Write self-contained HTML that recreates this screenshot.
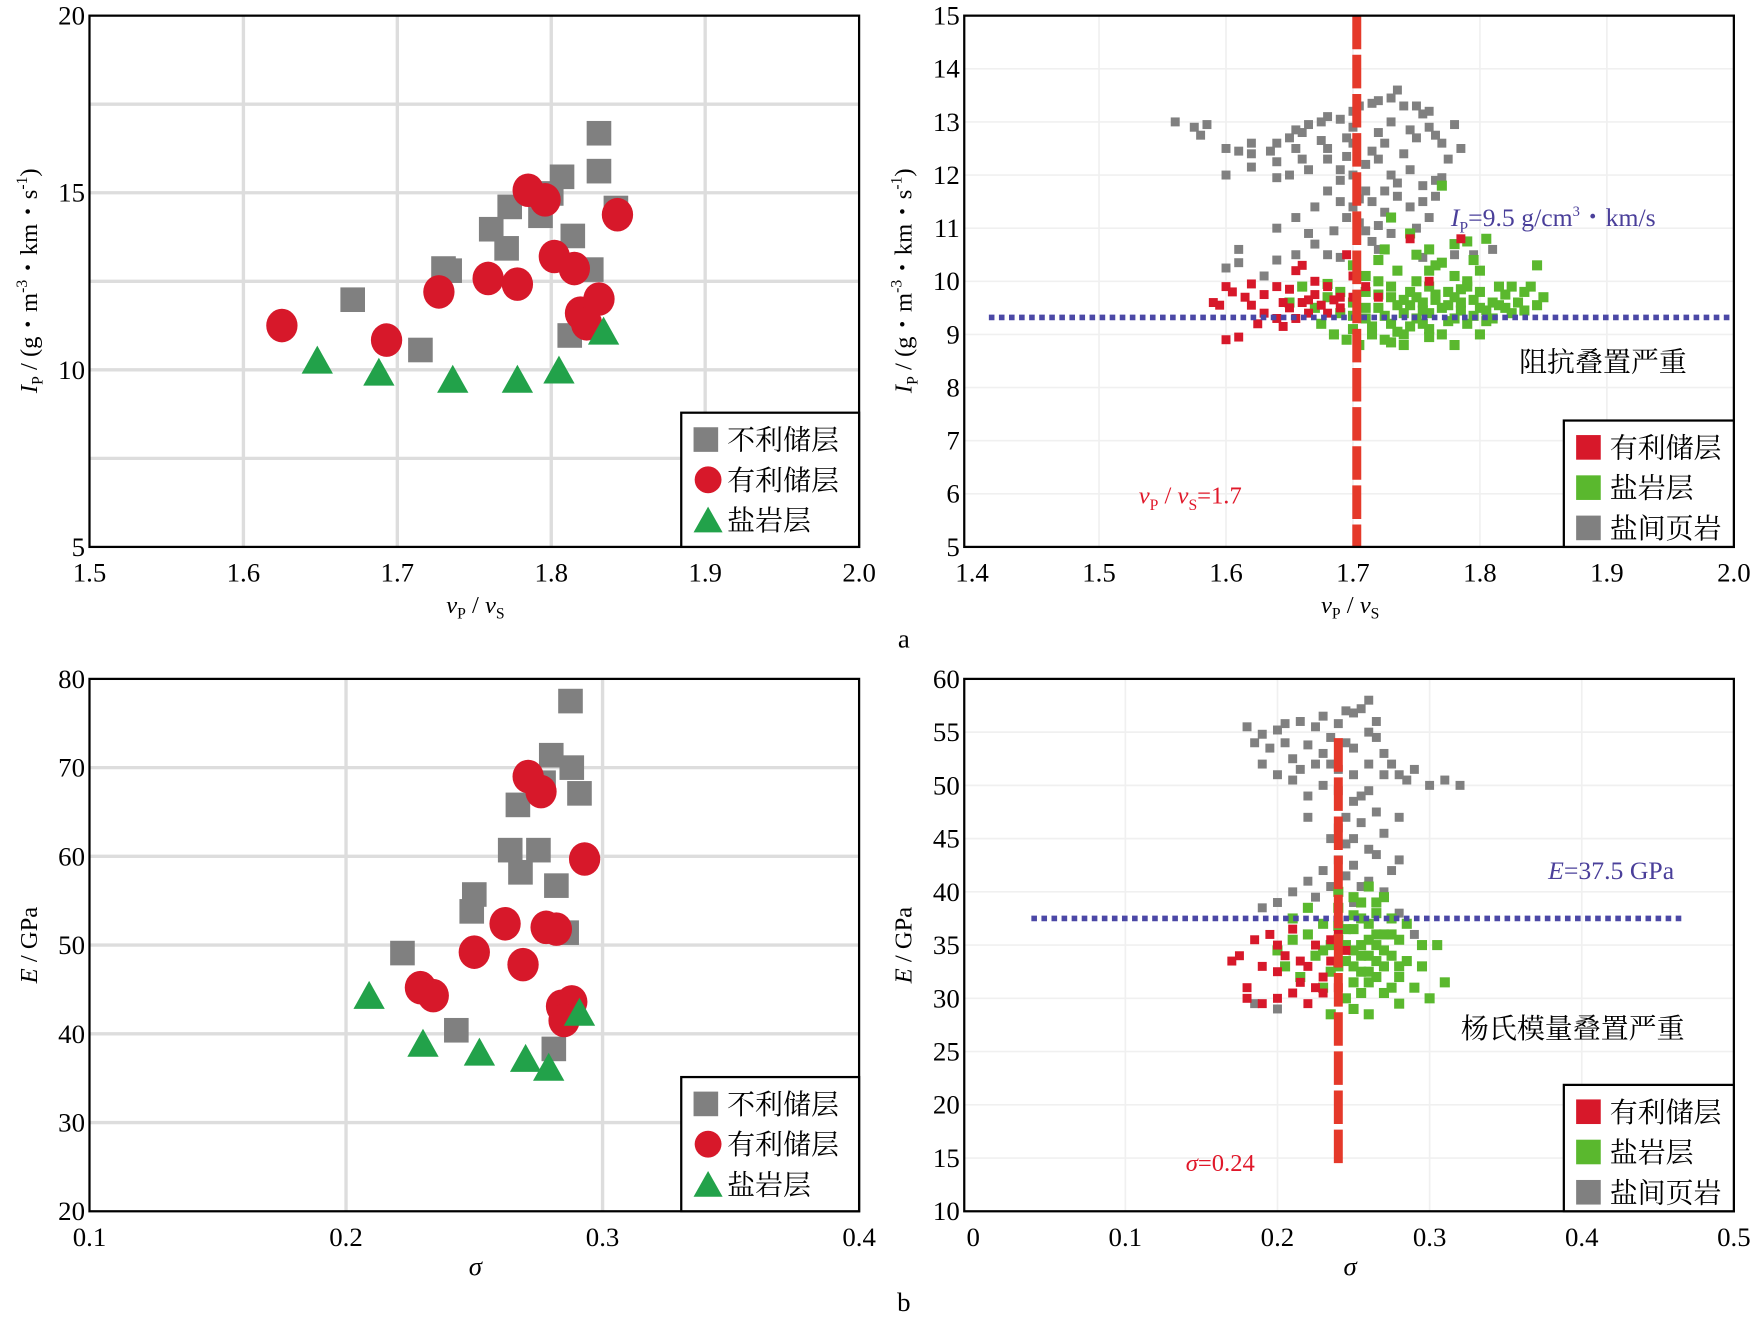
<!DOCTYPE html>
<html><head><meta charset="utf-8"><style>
html,body{margin:0;padding:0;background:#fff;}
svg{display:block;font-family:"Liberation Serif","Noto Serif CJK SC",serif;}
</style></head><body>
<svg id="s" width="1754" height="1322" viewBox="0 0 1568 1182" preserveAspectRatio="none" xmlns="http://www.w3.org/2000/svg"></svg>
<script>
// ---- Chart A1 data ----
const a1GrayX=[1.671,1.715,1.730,1.734,1.761,1.773,1.771,1.793,1.800,1.807,1.814,1.831,1.831,1.842,1.826,1.812];
const a1GrayY=[11.98,10.56,12.86,12.8,13.97,14.6,13.43,14.35,14.98,15.45,13.78,16.68,15.61,14.57,12.83,10.97];
const a1RedX=[1.625,1.693,1.727,1.759,1.778,1.785,1.796,1.802,1.815,1.819,1.823,1.831,1.843];
const a1RedY=[11.25,10.84,12.2,12.58,12.42,15.07,14.8,13.2,12.86,11.6,11.3,12.0,14.38];
const a1GreenX=[1.648,1.688,1.736,1.778,1.805,1.834];
const a1GreenY=[10.24,9.9,9.7,9.7,9.96,11.06];
const a1XTicks=["1.5","1.6","1.7","1.8","1.9","2.0"];
const a1YTicks=["5","10","15","20"];
// ---- Chart B1 data ----
const b1GrayX=[0.2875,0.280,0.288,0.277,0.291,0.267,0.264,0.275,0.268,0.282,0.250,0.249,0.286,0.222,0.243,0.281];
const b1GrayY=[77.5,71.4,70.0,68.3,67.1,65.8,60.7,60.7,58.2,56.7,55.7,53.8,51.4,49.1,40.4,38.3];
const b1RedX=[0.271,0.276,0.293,0.262,0.278,0.282,0.250,0.269,0.229,0.234,0.284,0.288,0.285];
const b1RedY=[69.0,67.3,59.7,52.4,52.0,51.8,49.2,47.8,45.2,44.3,43.1,43.6,41.5];
const b1GreenX=[0.291,0.209,0.230,0.252,0.270,0.279];
const b1GreenY=[42.3,44.2,38.8,37.8,37.1,36.1];
const b1XTicks=["0.1","0.2","0.3","0.4"];
const b1YTicks=["20","30","40","50","60","70","80"];
// ---- Chart A2 data ----
const a2Gray=[[1.56,13.0],[1.575,12.9],[1.58,12.75],[1.585,12.95],[1.60,12.5],[1.61,12.45],[1.62,12.4],[1.635,12.45],[1.64,12.6],[1.65,12.7],[1.655,12.5],[1.66,12.8],[1.665,12.95],[1.675,13.0],[1.68,13.1],[1.69,13.05],[1.695,12.7],[1.70,13.2],[1.705,13.3],[1.715,13.35],[1.72,13.4],[1.73,13.45],[1.735,13.6],[1.74,13.3],[1.75,13.3],[1.755,13.15],[1.76,12.9],[1.765,12.75],[1.77,12.6],[1.78,12.95],[1.60,12.0],[1.62,12.15],[1.64,11.95],[1.65,12.0],[1.665,12.1],[1.68,12.3],[1.69,12.1],[1.70,12.0],[1.71,12.2],[1.72,12.3],[1.73,12.0],[1.745,12.1],[1.755,11.8],[1.765,11.9],[1.77,11.95],[1.68,11.7],[1.69,11.5],[1.70,11.4],[1.705,11.1],[1.715,11.5],[1.725,11.3],[1.735,11.6],[1.745,11.4],[1.755,11.5],[1.71,10.95],[1.72,11.05],[1.73,10.9],[1.64,11.0],[1.655,11.2],[1.665,10.9],[1.67,10.7],[1.68,10.5],[1.655,10.5],[1.64,10.4],[1.61,10.6],[1.61,10.35],[1.63,10.1],[1.60,10.25],[1.69,10.45],[1.72,10.6],[1.755,10.45],[1.78,10.5],[1.795,10.5],[1.81,10.6],[1.75,11.0],[1.76,11.2],[1.67,11.4],[1.68,12.5],[1.70,12.6],[1.74,12.4],[1.75,12.7],[1.73,13.0],[1.70,12.9],[1.66,12.3],[1.64,12.25],[1.62,12.6],[1.76,13.2],[1.72,12.8],[1.69,11.9],[1.71,11.7],[1.725,12.6],[1.745,12.85],[1.715,12.45],[1.695,12.35],[1.675,12.65],[1.655,12.85],[1.735,11.85],[1.725,11.7],[1.705,11.55],[1.695,11.2],[1.685,10.95],[1.715,10.75],[1.765,11.6],[1.775,12.3],[1.785,12.5]];
const a2Green=[[1.67,9.5],[1.675,9.2],[1.68,9.7],[1.685,9.0],[1.69,9.4],[1.695,8.9],[1.70,9.6],[1.70,9.1],[1.705,8.8],[1.71,9.3],[1.71,9.8],[1.715,9.0],[1.72,9.5],[1.72,10.0],[1.725,8.9],[1.73,9.2],[1.73,9.7],[1.735,10.2],[1.74,9.4],[1.74,9.0],[1.745,9.8],[1.75,9.3],[1.75,10.0],[1.75,10.5],[1.755,9.6],[1.76,9.1],[1.76,9.9],[1.765,10.3],[1.77,9.5],[1.77,9.0],[1.775,9.8],[1.78,9.3],[1.78,10.1],[1.78,10.7],[1.785,9.6],[1.79,9.9],[1.79,9.2],[1.795,10.4],[1.80,9.5],[1.80,9.8],[1.805,10.8],[1.81,9.6],[1.81,9.3],[1.815,9.9],[1.82,9.5],[1.82,9.75],[1.825,9.4],[1.83,9.6],[1.835,9.8],[1.84,9.9],[1.845,9.55],[1.85,9.7],[1.845,10.3],[1.77,11.8],[1.73,11.2],[1.725,10.6],[1.745,10.9],[1.76,10.2],[1.79,10.0],[1.80,10.2],[1.71,9.5],[1.725,9.35],[1.735,9.55],[1.745,9.15],[1.755,9.45],[1.765,9.65],[1.775,9.25],[1.785,9.45],[1.795,9.65],[1.805,9.25],[1.815,9.55],[1.76,8.95],[1.78,8.8],[1.80,9.0],[1.73,8.85],[1.74,8.8],[1.69,9.8],[1.68,9.95],[1.66,9.9],[1.65,9.6],[1.70,10.3],[1.72,10.4],[1.76,10.6],[1.79,10.75],[1.77,10.35],[1.75,9.7],[1.73,9.9],[1.71,10.1],[1.745,9.55],[1.765,9.75],[1.785,9.85],[1.805,9.45],[1.825,9.9],[1.835,9.45],[1.715,9.15],[1.735,9.05],[1.755,9.2],[1.775,9.55],[1.795,9.35],[1.72,9.75],[1.74,9.65],[1.76,9.4],[1.78,9.7],[1.70,9.35]];
const a2Red=[[1.59,9.6],[1.595,9.55],[1.60,8.9],[1.61,8.95],[1.60,9.9],[1.605,9.8],[1.615,9.7],[1.62,9.55],[1.625,9.2],[1.63,9.4],[1.63,9.75],[1.64,9.9],[1.64,9.3],[1.645,9.15],[1.65,9.5],[1.65,9.85],[1.655,10.2],[1.66,9.6],[1.66,10.3],[1.665,9.4],[1.67,9.75],[1.675,9.55],[1.68,9.9],[1.68,9.4],[1.685,9.65],[1.69,9.5],[1.695,10.5],[1.70,9.7],[1.70,10.1],[1.71,9.9],[1.72,9.7],[1.745,10.8],[1.76,10.0],[1.785,10.8],[1.62,9.95],[1.655,9.3],[1.67,10.0],[1.665,9.65],[1.69,9.7],[1.645,9.6]];
const a2XTicks=["1.4","1.5","1.6","1.7","1.8","1.9","2.0"];
const a2YTicks=["5","6","7","8","9","10","11","12","13","14","15"];
const a2VLine=1.703, a2HLine=9.32;
// ---- Chart B2 data ----
const b2Gray=[[0.18,55.5],[0.19,54.8],[0.195,53.5],[0.20,55.2],[0.205,54.0],[0.21,52.5],[0.215,56.0],[0.22,53.8],[0.225,55.5],[0.23,56.5],[0.235,54.5],[0.24,55.8],[0.245,57.0],[0.25,56.8],[0.255,57.2],[0.26,55.0],[0.265,54.5],[0.27,53.0],[0.275,52.0],[0.28,51.0],[0.285,50.5],[0.29,51.5],[0.30,50.0],[0.31,50.5],[0.32,50.0],[0.19,52.0],[0.20,51.0],[0.21,50.5],[0.22,49.0],[0.23,50.0],[0.24,49.5],[0.25,51.0],[0.26,52.0],[0.245,47.0],[0.25,45.0],[0.255,46.5],[0.26,44.0],[0.265,47.5],[0.27,45.5],[0.24,43.0],[0.245,41.5],[0.25,42.5],[0.255,40.5],[0.26,41.0],[0.265,43.5],[0.27,40.0],[0.22,41.0],[0.23,42.0],[0.225,39.5],[0.21,40.0],[0.20,39.0],[0.19,38.5],[0.235,45.0],[0.24,46.0],[0.25,48.5],[0.26,49.5],[0.28,47.0],[0.28,43.0],[0.275,42.0],[0.23,53.0],[0.215,51.5],[0.22,47.0],[0.185,29.5],[0.20,29.0],[0.28,38.0],[0.29,36.0],[0.24,51.5],[0.25,53.5],[0.235,52.0],[0.26,58.0],[0.185,54.0],[0.205,55.8],[0.225,52.0],[0.245,54.0],[0.265,56.0],[0.27,51.0],[0.255,49.0],[0.245,44.5],[0.235,40.5],[0.25,39.0]];
const b2Green=[[0.20,34.5],[0.205,33.0],[0.21,35.5],[0.215,32.0],[0.22,36.0],[0.225,34.0],[0.23,31.0],[0.23,37.0],[0.235,35.0],[0.24,33.0],[0.24,38.5],[0.245,36.5],[0.245,30.0],[0.25,34.5],[0.25,39.5],[0.255,32.5],[0.255,37.5],[0.26,35.5],[0.26,31.5],[0.26,40.5],[0.265,33.5],[0.265,38.0],[0.27,36.0],[0.27,30.5],[0.275,34.0],[0.275,37.5],[0.28,32.0],[0.28,35.5],[0.285,33.5],[0.29,31.0],[0.295,35.0],[0.30,30.0],[0.305,35.0],[0.31,31.5],[0.235,28.5],[0.25,29.0],[0.24,35.5],[0.255,35.0],[0.265,36.0],[0.27,33.0],[0.25,36.5],[0.26,34.0],[0.245,33.5],[0.255,39.0],[0.265,32.0],[0.275,31.0],[0.285,37.0],[0.23,34.5],[0.22,38.5],[0.21,37.5],[0.24,40.0],[0.27,39.5],[0.28,29.5],[0.26,28.5],[0.25,31.5],[0.235,32.5],[0.295,33.0],[0.24,36.8],[0.26,37.0],[0.25,33.0],[0.255,34.0],[0.265,35.0],[0.275,36.0],[0.245,35.0],[0.26,32.5],[0.27,34.5],[0.28,33.0],[0.25,37.8],[0.265,39.0],[0.255,30.5]];
const b2Red=[[0.17,33.5],[0.175,34.0],[0.18,31.0],[0.185,35.5],[0.19,33.0],[0.195,36.0],[0.20,30.0],[0.20,32.5],[0.205,34.0],[0.21,30.5],[0.21,36.5],[0.215,31.5],[0.22,33.0],[0.22,29.5],[0.225,35.0],[0.23,32.0],[0.23,30.5],[0.235,33.5],[0.24,31.0],[0.245,34.5],[0.19,29.5],[0.18,30.0],[0.24,36.0],[0.2,35.0],[0.215,33.5],[0.225,31.0],[0.235,35.5]];
const b2XTicks=["0","0.1","0.2","0.3","0.4","0.5"];
const b2YTicks=["10","15","20","25","30","35","40","45","50","55","60"];
const b2VLine=0.24, b2HLine=37.5;

const NS="http://www.w3.org/2000/svg";
const svg=document.getElementById('s');
function mk(tag,attrs,parent,text){const e=document.createElementNS(NS,tag);for(const k in attrs)e.setAttribute(k,attrs[k]);if(text!==undefined)e.textContent=text;(parent||svg).appendChild(e);return e;}
const GRAY="#808080",RED="#d7182a",GREEN="#22a24a",LGREEN="#5ab82e";

function chart(name,L,R,T,B,x0,x1,y0,y1,ML){
  const g=mk('g',{});
  
  
  const m=ML===undefined?L:ML;
  return {g,sx:v=>m+(v-x0)/(x1-x0)*(R-m),sy:v=>B-(v-y0)/(y1-y0)*(B-T),L,R,T,B};
}
function frame(c){const r=mk('rect',{x:c.L,y:c.T,width:c.R-c.L,height:c.B-c.T,fill:'none',stroke:'#000','stroke-width':2},c.g);}
function grid(c,xs,ys,col,w){xs.forEach(v=>{const l=mk('line',{x1:c.sx(v),x2:c.sx(v),y1:c.T,y2:c.B,stroke:col,'stroke-width':w},c.g);});
 ys.forEach(v=>{const l=mk('line',{x1:c.L,x2:c.R,y1:c.sy(v),y2:c.sy(v),stroke:col,'stroke-width':w},c.g);});}
function ticks(c,xt,yt){
  xt.forEach(t=>{const e=mk('text',{x:c.sx(parseFloat(t)),y:c.B+31,'font-size':24,'text-anchor':'middle'},c.g,t);});
  yt.forEach(t=>{const e=mk('text',{x:c.L-4,y:c.sy(parseFloat(t))+8,'font-size':24,'text-anchor':'end'},c.g,t);});
}
function sq(c,x,y,s,col,nm){const r=mk('rect',{x:c.sx(x)-s/2,y:c.sy(y)-s/2,width:s,height:s,fill:col},c.g);}
function circ(c,x,y,nm){const e=mk('ellipse',{cx:c.sx(x),cy:c.sy(y),rx:14,ry:15,fill:RED},c.g);}
function tri(c,x,y,nm){const X=c.sx(x),Y=c.sy(y);const p=mk('polygon',{points:`${X},${Y-14} ${X+14},${Y+11} ${X-14},${Y+11}`,fill:GREEN},c.g);}
function legend(c,x,y,w,h,items){
  const lg=mk('g',{},c.g);
  mk('rect',{x,y,width:w,height:h,fill:'#fff',stroke:'#000','stroke-width':2},lg);
  items.forEach((it,i)=>{const cy=y+24+i*36;
    if(it[0]==='sq')mk('rect',{x:x+11,y:cy-11,width:22,height:22,fill:it[1]},lg);
    if(it[0]==='ci')mk('circle',{cx:x+24,cy:cy,r:12,fill:it[1]},lg);
    if(it[0]==='tr')mk('polygon',{points:`${x+24},${cy-12} ${x+37},${cy+11} ${x+11},${cy+11}`,fill:it[1]},lg);
    const t=mk('text',{x:x+41,y:cy+9,'font-size':25},lg,it[2]);});
}
function txt(p,x,y,fs,content,attrs,nm){const t=mk('text',Object.assign({x,y,'font-size':fs},attrs||{}),p);t.innerHTML=content;return t;}
const ylabIp='<tspan font-style="italic">I</tspan><tspan font-size="14" dy="5">P</tspan><tspan dy="-5"> / (g・m</tspan><tspan font-size="14" dy="-9">-3</tspan><tspan dy="9">・km・s</tspan><tspan font-size="14" dy="-9">-1</tspan><tspan dy="9">)</tspan>';
const xlabV='<tspan font-style="italic">v</tspan><tspan font-size="14" dy="5">P</tspan><tspan dy="-5"> / </tspan><tspan font-style="italic">v</tspan><tspan font-size="14" dy="5">S</tspan>';

// A1
let c=chart('chart-a-left',80,768,14,489,1.5,2.0,5,20);
grid(c,[1.6,1.7,1.8,1.9],[7.5,10,12.5,15,17.5],'#ddd',3);
a1GrayX.forEach((v,i)=>sq(c,v,a1GrayY[i],22,GRAY,'unfavorable-point'));
a1RedX.forEach((v,i)=>circ(c,v,a1RedY[i],'favorable-point'));
a1GreenX.forEach((v,i)=>tri(c,v,a1GreenY[i],'salt-point'));
frame(c);ticks(c,a1XTicks,a1YTicks);
legend(c,609,369,159,120,[['sq',GRAY,'不利储层'],['ci',RED,'有利储层'],['tr',GREEN,'盐岩层']]);
txt(c.g,425,548,22,xlabV,{'text-anchor':'middle'},'x-axis-title');
txt(c.g,0,0,22,ylabIp,{'text-anchor':'middle',transform:'translate(33,251) rotate(-90)'},'y-axis-title');

// A2
c=chart('chart-a-right',862,1550,14,489,1.4,2.0,5,15,869);
grid(c,[1.5,1.6,1.7,1.8,1.9],[6,7,8,9,10,11,12,13,14],'#f0f0f0',1.5);
a2Gray.forEach(p=>sq(c,p[0],p[1],8,GRAY,'shale-point'));
a2Green.forEach(p=>sq(c,p[0],p[1],9,LGREEN,'salt-point'));
a2Red.forEach(p=>sq(c,p[0],p[1],8,RED,'favorable-point'));
let l=mk('line',{x1:884,x2:c.R,y1:c.sy(a2HLine),y2:c.sy(a2HLine),stroke:'#4b48a6','stroke-width':5,'stroke-dasharray':'5 4'},c.g);
l=mk('line',{x1:c.sx(a2VLine),x2:c.sx(a2VLine),y1:c.T,y2:c.B,stroke:'#e5392a','stroke-width':8,'stroke-dasharray':'30 5'},c.g);
frame(c);ticks(c,a2XTicks,a2YTicks);
legend(c,1398,376,152,113,[['sq',RED,'有利储层'],['sq',LGREEN,'盐岩层'],['sq',GRAY,'盐间页岩']]);
txt(c.g,1358,332,25,'阻抗叠置严重',{},'annotation-overlap');
txt(c.g,1297,202,23,'<tspan font-style="italic">I</tspan><tspan font-size="14" dy="6">P</tspan><tspan dy="-6">=9.5 g/cm</tspan><tspan font-size="13" dy="-9">3</tspan><tspan dy="9">・km/s</tspan>',{fill:'#4a3f9a'},'ip-threshold-label');
txt(c.g,1018,450,22,'<tspan font-style="italic">v</tspan><tspan font-size="14" dy="6">P</tspan><tspan dy="-6"> / </tspan><tspan font-style="italic">v</tspan><tspan font-size="14" dy="6">S</tspan><tspan dy="-6">=1.7</tspan>',{fill:'#e0182a'},'vpvs-threshold-label');
txt(c.g,1207,548,22,xlabV,{'text-anchor':'middle'},'x-axis-title');
txt(c.g,0,0,22,ylabIp,{'text-anchor':'middle',transform:'translate(815,251) rotate(-90)'},'y-axis-title');
txt(svg,808,579,24,'a',{'text-anchor':'middle'},'panel-label-a');

// B1
c=chart('chart-b-left',80,768,607,1083,0.1,0.4,20,80);
grid(c,[0.2,0.3],[30,40,50,60,70],'#ddd',3);
b1GrayX.forEach((v,i)=>sq(c,v,b1GrayY[i],22,GRAY,'unfavorable-point'));
b1RedX.forEach((v,i)=>circ(c,v,b1RedY[i],'favorable-point'));
b1GreenX.forEach((v,i)=>tri(c,v,b1GreenY[i],'salt-point'));
frame(c);ticks(c,b1XTicks,b1YTicks);
legend(c,609,963,159,120,[['sq',GRAY,'不利储层'],['ci',RED,'有利储层'],['tr',GREEN,'盐岩层']]);
txt(c.g,425,1140,24,'σ',{'text-anchor':'middle','font-style':'italic'},'x-axis-title');
txt(c.g,0,0,22,'<tspan font-style="italic">E</tspan> / GPa',{'text-anchor':'middle',transform:'translate(33,845) rotate(-90)'},'y-axis-title');

// B2
c=chart('chart-b-right',862,1550,607,1083,0,0.5,10,60,870);
grid(c,[0.1,0.2,0.3,0.4],[15,20,25,30,35,40,45,50,55],'#f0f0f0',1.5);
b2Gray.forEach(p=>sq(c,p[0],p[1],8,GRAY,'shale-point'));
b2Green.forEach(p=>sq(c,p[0],p[1],9,LGREEN,'salt-point'));
b2Red.forEach(p=>sq(c,p[0],p[1],8,RED,'favorable-point'));
l=mk('line',{x1:922,x2:1506,y1:c.sy(b2HLine),y2:c.sy(b2HLine),stroke:'#4b48a6','stroke-width':5,'stroke-dasharray':'5 4'},c.g);
l=mk('line',{x1:c.sx(b2VLine),x2:c.sx(b2VLine),y1:660,y2:1043,stroke:'#e5392a','stroke-width':8,'stroke-dasharray':'30 5'},c.g);
frame(c);ticks(c,b2XTicks,b2YTicks);
legend(c,1398,970,152,113,[['sq',RED,'有利储层'],['sq',LGREEN,'盐岩层'],['sq',GRAY,'盐间页岩']]);
txt(c.g,1306,928,25,'杨氏模量叠置严重',{},'annotation-overlap');
txt(c.g,1384,786,23,'<tspan font-style="italic">E</tspan>=37.5 GPa',{fill:'#4a3f9a'},'e-threshold-label');
txt(c.g,1060,1047,22,'<tspan font-style="italic">σ</tspan>=0.24',{fill:'#e0182a'},'sigma-threshold-label');
txt(c.g,1207,1140,24,'σ',{'text-anchor':'middle','font-style':'italic'},'x-axis-title');
txt(c.g,0,0,22,'<tspan font-style="italic">E</tspan> / GPa',{'text-anchor':'middle',transform:'translate(815,845) rotate(-90)'},'y-axis-title');
txt(svg,808,1172,24,'b',{'text-anchor':'middle'},'panel-label-b');
</script>
</body></html>
